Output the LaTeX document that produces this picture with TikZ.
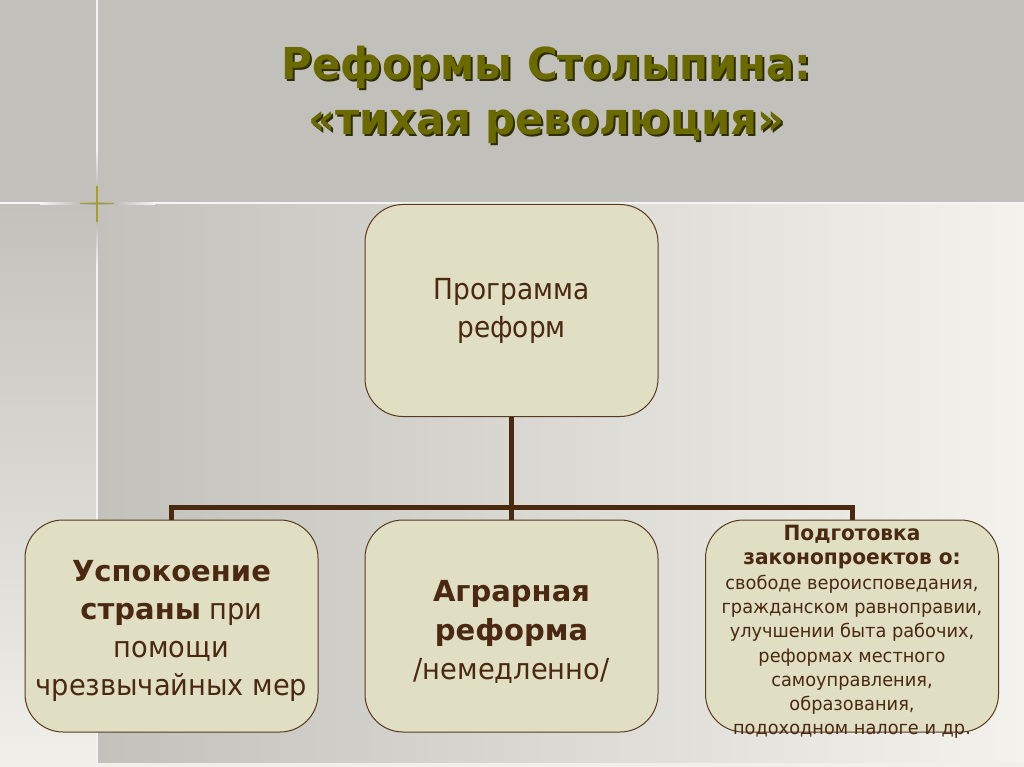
\documentclass[tikz,border=0pt]{standalone}
\usepackage{fontspec}
\setmainfont{DejaVu Sans}
\newfontfamily\titlefont[FakeStretch=0.95]{DejaVu Sans}
\newfontfamily\boxfont[FakeStretch=0.94]{DejaVu Sans}
\newfontfamily\progfont[FakeStretch=0.91]{DejaVu Sans}
\newfontfamily\boxbold{DejaVu Sans Bold}
\newfontfamily\smallfont[FakeStretch=0.96]{DejaVu Sans}
\definecolor{topband}{HTML}{C1C0BA}
\definecolor{gleft}{HTML}{C2C1BB}
\definecolor{gright}{HTML}{F3F2ED}
\definecolor{strip}{HTML}{F0EFEA}
\definecolor{boxfill}{HTML}{E0DFC4}
\definecolor{boxline}{HTML}{5A3A1C}
\definecolor{conn}{HTML}{4A2A0E}
\definecolor{txt}{HTML}{4A2812}
\definecolor{olive}{HTML}{6B6A00}
\definecolor{oliveshadow}{HTML}{2E2D08}
\definecolor{star}{HTML}{A8A020}
\tikzset{
  rbox/.style={draw=boxline, line width=1pt, fill=boxfill, rounded corners=38pt,
    minimum width=293pt, minimum height=212pt, inner sep=0pt, text=txt},
  link/.style={draw=conn, line width=5pt},
  titletext/.style={font=\titlefont\bfseries\fontsize{44}{55}\selectfont, align=center}
}
\begin{document}
\begin{tikzpicture}[x=1pt,y=-1pt]
\useasboundingbox (0,0) rectangle (1024,767);
% background
\fill[topband] (0,0) rectangle (1024,203);
\shade[left color=gleft, right color=gright] (97,204) rectangle (1024,763);
\shade[top color=gleft, bottom color=strip] (0,204) rectangle (97,767);
\fill[strip] (97,763) rectangle (1024,767);
\draw[white!92!gray, line width=2pt] (0,203.5) -- (1024,203.5);
\draw[white!90!gray, line width=1.5pt] (97,0) -- (97,767);
\shade[left color=white!92!gray, right color=gray!70] (40,202.5) rectangle (97,204.5);
\shade[left color=gray!70, right color=white!92!gray] (97,202.5) rectangle (155,204.5);
\shade[top color=white!90!gray, bottom color=gray!70] (96.2,150) rectangle (97.8,203);
\shade[top color=gray!70, bottom color=white!90!gray] (96.2,204) rectangle (97.8,265);
\draw[star, line width=1.6pt] (80,203.5) -- (114,203.5);
\draw[star, line width=1.6pt] (97,186) -- (97,222);
% title
\node[titletext, text=oliveshadow] at (548.5,96.5) {Реформы Столыпина:\\ «тихая революция»};
\node[titletext, text=olive] (title) at (546.5,94.5) {Реформы Столыпина:\\ «тихая революция»};
% boxes
\node[rbox, font=\progfont\fontsize{29}{38}\selectfont, align=center] (prog) at (511.5,310.5) {\raisebox{-6pt}{Программа}\\ \raisebox{-6pt}{реформ}};
\node[rbox, font=\boxfont\fontsize{29}{38}\selectfont, align=center] (calm) at (171.5,626) {};
\node[text=txt, font=\boxfont\fontsize{29}{38}\selectfont, align=center, inner sep=0pt] (calmtext) at (171.5,631) {{\boxbold Успокоение}\\ {\boxbold страны} при\\ помощи\\ чрезвычайных мер};
\node[rbox] (agr) at (511.5,626) {};
\node[text=txt, font=\boxfont\fontsize{29}{39}\selectfont, align=center, inner sep=0pt] (agrtext) at (511.5,632) {{\boxbold Аграрная}\\ {\boxbold реформа}\\ /немедленно/};
\node[rbox] (laws) at (852,626) {};
\node[text=txt, align=center, inner sep=0pt, font=\smallfont\fontsize{18.5}{24.3}\selectfont] (lawstext) at (852,632) {{\fontsize{21}{26}\selectfont\bfseries Подготовка}\\ {\fontsize{21}{26}\selectfont\bfseries законопроектов о:}\\ свободе вероисповедания,\\ гражданском равноправии,\\ улучшении быта рабочих,\\ реформах местного\\ самоуправления,\\ образования,\\ подоходном налоге и др.};
% connectors
\coordinate (hub) at (511.5,507);
\draw[link] (prog.south) -- (hub);
\draw[link] (calm.north) -- (calm.north |- hub) -- (laws.north |- hub) -- (laws.north);
\draw[link] (hub) -- (agr.north);
\end{tikzpicture}
\end{document}
